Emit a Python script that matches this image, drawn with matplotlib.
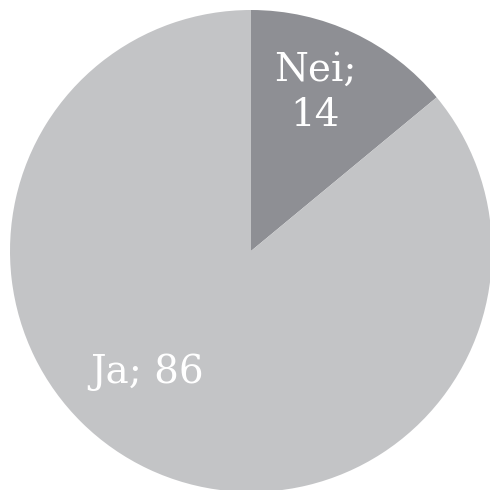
import matplotlib
matplotlib.use("Agg")
import matplotlib.pyplot as plt

categories = ["Nei", "Ja"]
values = [14, 86]
colors = ["#8e8f94", "#c3c4c6"]

fig = plt.figure(figsize=(4.9, 4.9), dpi=100)
ax = fig.add_axes([10/490, -2/490, 482/490, 482/490])
ax.pie(values, colors=colors, startangle=90, counterclock=False, radius=1,
       wedgeprops=dict(linewidth=0))
ax.set_xlim(-1, 1)
ax.set_ylim(-1, 1)
ax.set_aspect("equal")
ax.axis("off")

font = dict(family="DejaVu Serif", color="white", fontsize=28, ha="center", va="center")
ax.text(0.266, 0.655, f"{categories[0]};\n{values[0]}", linespacing=1.3, **font)
ax.text(-0.43, -0.502, f"{categories[1]}; {values[1]}", **font)

fig.savefig("out.png", dpi=100)
